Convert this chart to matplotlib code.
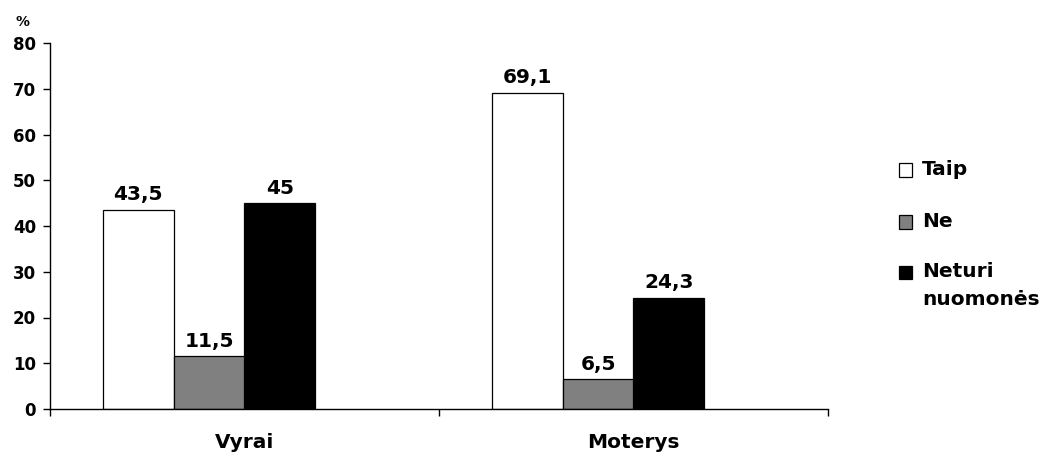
import matplotlib.pyplot as plt
from matplotlib.patches import Rectangle
import numpy as np

plt.rcParams['font.family'] = ['DejaVu Sans']
plt.rcParams['font.weight'] = 'bold'

categories = ['Vyrai', 'Moterys']
series_names = ['Taip', 'Ne', 'Neturi\nnuomonės']
taip = [43.5, 69.1]
ne = [11.5, 6.5]
neturi = [45, 24.3]
value_labels = [['43,5', '69,1'], ['11,5', '6,5'], ['45', '24,3']]
y_ticks = [0, 10, 20, 30, 40, 50, 60, 70, 80]

colors = ['#ffffff', '#808080', '#000000']
series = [taip, ne, neturi]

W, H = 1057, 453
fig = plt.figure(figsize=(W / 100, H / 100), dpi=100)
ax = fig.add_axes([50 / W, 44 / H, 778 / W, 366 / H])

x = np.arange(len(categories)) + 0.5
width = 0.1825
offsets = [-1.5 * width, -0.5 * width, 0.5 * width]

for vals, col, off, labs in zip(series, colors, offsets, value_labels):
    bars = ax.bar(x + off, vals, width=width, color=col, edgecolor='#000000',
                  linewidth=0.9, zorder=2)
    for b, lab in zip(bars, labs):
        ax.annotate(lab, (b.get_x() + b.get_width() / 2, b.get_height()),
                    xytext=(0, 4), textcoords='offset points',
                    ha='center', va='bottom', fontsize=14.5, fontweight='bold')

ax.set_xlim(0, 2)
ax.set_ylim(0, 80)
ax.set_yticks(y_ticks)
ax.set_yticklabels([str(t) for t in y_ticks], fontsize=12, fontweight='bold')
ax.set_xticks([0, 1, 2])
ax.set_xticklabels([])
ax.set_xticks(x, minor=True)
ax.set_xticklabels(categories, minor=True, fontsize=14.5, fontweight='bold')
ax.tick_params(axis='x', which='minor', length=0, pad=17)
ax.tick_params(axis='x', which='major', length=5, width=1, direction='out')
ax.tick_params(axis='y', length=5, width=1, direction='out', pad=5)

for s in ['top', 'right']:
    ax.spines[s].set_visible(False)
ax.spines['left'].set_linewidth(1)
ax.spines['bottom'].set_linewidth(1)

fig.text(23 / W, 1 - 22 / H, '%', fontsize=10, fontweight='bold',
         ha='center', va='center')

# legend: square markers with labels, first text line aligned to the square
row_y = [170, 222, 272]
for name, col, yc in zip(series_names, colors, row_y):
    fig.patches.append(Rectangle((899 / W, 1 - (yc + 6.5) / H), 13 / W, 13 / H,
                                 transform=fig.transFigure, facecolor=col,
                                 edgecolor='#000000', linewidth=0.9))
    fig.text(922 / W, 1 - (yc - 10) / H, name, fontsize=14.5, fontweight='bold',
             ha='left', va='top', linespacing=1.6)

fig.savefig('out.png', dpi=100)
